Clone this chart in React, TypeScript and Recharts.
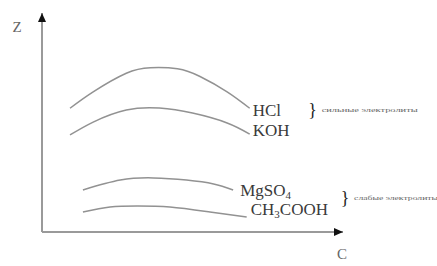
import { Line, LineChart, XAxis, YAxis } from "recharts";

// concentration C (0..100) and conductivity Z (0..100)
const C_HCL = [9.3, 17, 28, 36, 45, 52.5, 61.5, 69];
const Z_HCL = [56.5, 64, 72.5, 75, 74.5, 71, 64, 56.5];

const C_KOH = [9.3, 17, 28, 39, 50, 61.5, 69];
const Z_KOH = [44.3, 50.2, 55.7, 56.6, 54.3, 49.8, 44.7];

const C_MGSO4 = [13.6, 26, 37, 48, 57, 63.5];
const Z_MGSO4 = [19.2, 23.7, 24.7, 23.7, 21.9, 19.2];

const C_CH3COOH = [13.6, 22.6, 31.6, 42.5, 55.8, 68];
const Z_CH3COOH = [9.1, 11.4, 11.9, 11.4, 9.1, 6.8];

const STRONG_LABEL = "сильные электролиты";
const WEAK_LABEL = "слабые электролиты";

const zip = (c: number[], z: number[]) => c.map((v, i) => ({ c: v, z: z[i] }));

const SERIF = "'Liberation Serif', 'Times New Roman', serif";
const LINE_COLOR = "#929292";
const TEXT_COLOR = "#3a3a3a";

type EndLabelOpts = {
  count: number;
  dx: number;
  dy: number;
  main: string;
  sub?: string;
  tail?: string;
  note?: { dx: number; dy: number; text: string; width: number };
};

function endLabel(o: EndLabelOpts) {
  return (props: any) => {
    const { x, y, index } = props;
    if (index !== o.count - 1) return null;
    const tx = x + o.dx;
    const ty = y + o.dy;
    return (
      <g>
        <text x={tx} y={ty} fontFamily={SERIF} fontSize={17} fill={TEXT_COLOR}>
          {o.main}
          {o.sub && (
            <tspan fontSize={11} dy={3}>
              {o.sub}
            </tspan>
          )}
          {o.tail && <tspan dy={-3}>{o.tail}</tspan>}
        </text>
        {o.note && (
          <g>
            <text
              x={x + o.note.dx}
              y={y + o.note.dy + 6}
              fontFamily={SERIF}
              fontSize={18}
              fill="#222"
              textAnchor="middle"
            >
              {"}"}
            </text>
            <text
              x={x + o.note.dx + 9}
              y={y + o.note.dy + 2}
              fontFamily={SERIF}
              fontSize={7}
              fill="#666"
              textLength={o.note.width}
              lengthAdjust="spacingAndGlyphs"
            >
              {o.note.text}
            </text>
          </g>
        )}
      </g>
    );
  };
}

export default function App() {
  return (
    <div style={{ position: "absolute", left: 0, top: 0, width: 437, height: 266, background: "#fff" }}>
      <LineChart width={437} height={266} margin={{ top: 13, right: 94, bottom: 0, left: 12 }}>
        <XAxis
          type="number"
          dataKey="c"
          domain={[0, 100]}
          tick={false}
          tickLine={false}
          height={34}
          axisLine={{ stroke: "#9a9a9a", strokeWidth: 2 }}
          label={(p: any) => {
            const { x, y, width } = p.viewBox;
            const tip = x + width;
            return (
              <g>
                <polygon points={`${tip},${y} ${tip - 9},${y - 4} ${tip - 9},${y + 4}`} fill="#111" />
                <text x={tip - 1} y={y + 27} fontFamily={SERIF} fontSize={15} fill="#666" textAnchor="middle">
                  C
                </text>
              </g>
            );
          }}
        />
        <YAxis
          type="number"
          dataKey="z"
          domain={[0, 100]}
          tick={false}
          tickLine={false}
          width={30}
          axisLine={{ stroke: "#9a9a9a", strokeWidth: 2 }}
          label={(p: any) => {
            const { x, y, width } = p.viewBox;
            const ax = x + width;
            return (
              <g>
                <polygon points={`${ax},${y} ${ax - 4},${y + 9} ${ax + 4},${y + 9}`} fill="#111" />
                <text x={ax - 25} y={y + 19} fontFamily={SERIF} fontSize={15} fill="#666" textAnchor="middle">
                  Z
                </text>
              </g>
            );
          }}
        />
        <Line
          data={zip(C_HCL, Z_HCL)}
          dataKey="z"
          type="natural"
          stroke={LINE_COLOR}
          strokeWidth={1.5}
          dot={false}
          isAnimationActive={false}
          label={endLabel({
            count: C_HCL.length,
            dx: 3,
            dy: 8,
            main: "HCl",
            note: { dx: 63, dy: 2, text: STRONG_LABEL, width: 96 },
          })}
        />
        <Line
          data={zip(C_KOH, Z_KOH)}
          dataKey="z"
          type="natural"
          stroke={LINE_COLOR}
          strokeWidth={1.5}
          dot={false}
          isAnimationActive={false}
          label={endLabel({ count: C_KOH.length, dx: 3, dy: 2, main: "KOH" })}
        />
        <Line
          data={zip(C_MGSO4, Z_MGSO4)}
          dataKey="z"
          type="natural"
          stroke={LINE_COLOR}
          strokeWidth={1.5}
          dot={false}
          isAnimationActive={false}
          label={endLabel({
            count: C_MGSO4.length,
            dx: 7,
            dy: 6,
            main: "MgSO",
            sub: "4",
            note: { dx: 112, dy: 8, text: WEAK_LABEL, width: 84 },
          })}
        />
        <Line
          data={zip(C_CH3COOH, Z_CH3COOH)}
          dataKey="z"
          type="natural"
          stroke={LINE_COLOR}
          strokeWidth={1.5}
          dot={false}
          isAnimationActive={false}
          label={endLabel({ count: C_CH3COOH.length, dx: 4, dy: -2, main: "CH", sub: "3", tail: "COOH" })}
        />
      </LineChart>
    </div>
  );
}
